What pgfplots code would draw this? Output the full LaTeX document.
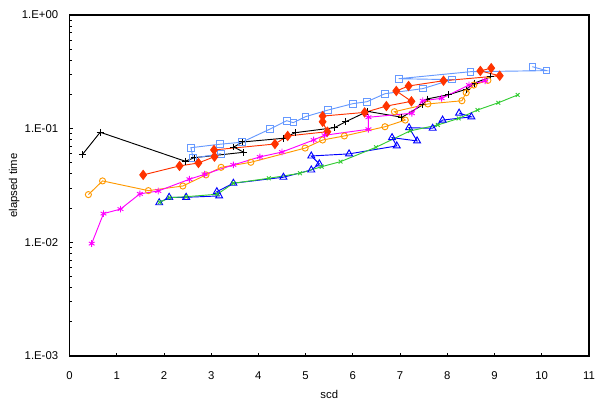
\documentclass[border=0pt]{standalone}
\usepackage{pgfplots}
\pgfplotsset{compat=1.18}
\usepackage{fontspec}
\setmainfont{Liberation Sans}
\definecolor{cblack}{HTML}{000000}
\definecolor{clblue}{HTML}{6699FF}
\definecolor{cred}{HTML}{FF3300}
\definecolor{corange}{HTML}{FF9900}
\definecolor{cmag}{HTML}{FF00FF}
\definecolor{cgreen}{HTML}{33CC33}
\definecolor{cblue}{HTML}{0000FF}
\begin{document}
\begin{tikzpicture}[x=0.75pt,y=0.75pt]
\path[use as bounding box] (-69.5,-53) rectangle (533.5,356);
\begin{axis}[
  at={(0,0)}, anchor=south west,
  scale only axis,
  width=389.6pt, height=255.75pt,
  ymode=log,
  xmin=0, xmax=11, ymin=1e-3, ymax=1,
  xtick={0,1,...,11},
  ytick={1e-3,1e-2,1e-1,1},
  yticklabels={1.E-03,1.E-02,1.E-01,1.E+00},
  tick align=inside,
  xtick pos=bottom, ytick pos=left,
  major tick length=2.5pt, minor tick length=2pt,
  axis line style={line width=1pt},
  tick style={black, line width=0.6pt},
  font=\fontsize{8.5}{10}\selectfont,
  /pgf/number format/assume math mode=true,
  xticklabel style={yshift=-8pt},
  yticklabel style={xshift=-5pt},
  xlabel={scd}, ylabel={elapsed time},
  xlabel style={yshift=-1pt},
  ylabel style={yshift=-5pt},
  every axis plot/.append style={line width=0.7pt},
]
\addplot[cblack, mark=+, mark size=2.6pt] coordinates {
(0.27,0.059)(0.65,0.093)(2.45,0.0517)(2.65,0.0556)(3.69,0.062)(3.48,0.069)(3.67,0.0764)(4.53,0.0823)(4.78,0.0922)(5.61,0.102)(5.84,0.1146)(6.31,0.142)(7.04,0.126)(7.48,0.162)(7.57,0.1825)(8.03,0.199)(8.40,0.222)(8.57,0.251)(8.91,0.285)
};
\addplot[clblue, mark=square, mark size=2.5pt] coordinates {
(3.21,0.0603)(2.62,0.055)(2.57,0.068)(3.19,0.073)(3.65,0.076)(4.25,0.0994)(4.60,0.1175)(4.74,0.113)(5.00,0.1276)(5.48,0.146)(6.0,0.166)(6.30,0.1727)(6.68,0.203)(7.48,0.225)(8.10,0.27)(6.97,0.275)(8.49,0.317)(10.10,0.324)(9.80,0.351)
};
\addplot[cred, mark=diamond*, mark size=3.4pt] coordinates {
(1.56,0.0392)(2.33,0.047)(2.73,0.0499)(3.07,0.0567)(3.06,0.065)(4.35,0.0733)(4.62,0.0863)(5.46,0.094)(5.36,0.115)(5.36,0.129)(6.25,0.139)(6.71,0.158)(7.24,0.174)(6.92,0.2146)(7.18,0.2374)(7.92,0.264)(9.11,0.292)(8.70,0.322)(8.93,0.341)
};
\addplot[corange, mark=o, mark size=2.3pt] coordinates {
(0.40,0.0263)(0.70,0.0347)(1.67,0.0285)(2.40,0.0313)(2.89,0.0392)(3.21,0.0457)(3.84,0.0506)(4.99,0.0675)(5.36,0.0795)(5.82,0.0863)(6.68,0.104)(7.11,0.119)(6.88,0.141)(7.59,0.165)(8.31,0.176)(8.40,0.207)(8.56,0.242)(8.86,0.266)
};
\addplot[cmag, mark=asterisk, mark size=2.5pt] coordinates {
(0.47,0.00975)(0.72,0.0179)(1.08,0.0196)(1.49,0.0267)(1.88,0.0283)(2.54,0.0359)(2.86,0.0397)(3.47,0.048)(4.03,0.0564)(4.50,0.0623)(5.17,0.0795)(5.40,0.0875)(6.33,0.0988)(6.33,0.126)(7.25,0.1366)(7.48,0.176)(7.88,0.185)(8.46,0.242)(8.80,0.264)
};
\addplot[cblue, mark=triangle, mark size=3pt] coordinates {
(1.90,0.0223)(2.11,0.0249)(2.47,0.0249)(3.17,0.0256)(3.12,0.0279)(3.47,0.0331)(4.53,0.0374)(5.12,0.0433)(5.29,0.049)(5.12,0.0575)(5.92,0.0600)(6.93,0.0705)(6.83,0.0834)(7.36,0.078)(7.19,0.102)(7.69,0.1008)(7.90,0.119)(8.51,0.127)(8.25,0.137)
};
\addplot[cgreen, mark=x, mark size=2pt] coordinates {
(1.91,0.0225)(2.12,0.0247)(2.47,0.0252)(3.13,0.0265)(3.47,0.0331)(4.22,0.0366)(4.88,0.0405)(5.34,0.0463)(5.74,0.0513)(6.49,0.0686)(7.21,0.0955)(7.80,0.1078)(8.24,0.123)(8.64,0.146)(9.08,0.169)(9.49,0.198)
};
\end{axis}
\end{tikzpicture}
\end{document}
